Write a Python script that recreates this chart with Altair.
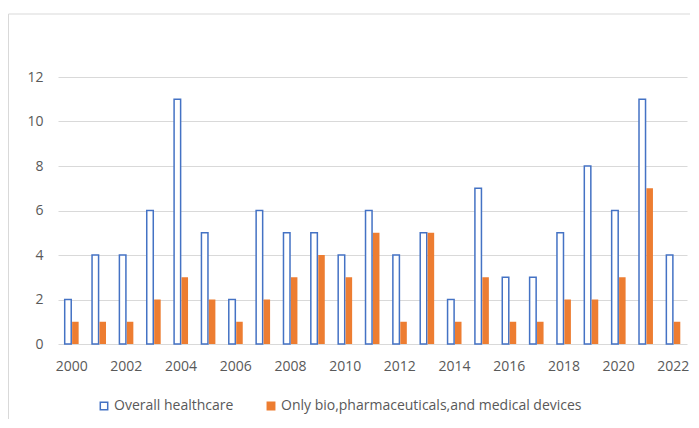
import altair as alt
import pandas as pd

years = list(range(2000, 2023))
overall = [2, 4, 4, 6, 11, 5, 2, 6, 5, 5, 4, 6, 4, 5, 2, 7, 3, 3, 5, 8, 6, 11, 4]
bio = [1, 1, 1, 2, 3, 2, 1, 2, 3, 4, 3, 5, 1, 5, 1, 3, 1, 1, 2, 2, 3, 7, 1]
series_names = ["Overall healthcare", "Only bio,pharmaceuticals,and medical devices"]
x_tick_labels = list(range(2000, 2023, 2))
y_ticks = [0, 2, 4, 6, 8, 10, 12]

rows = []
for yr, a, b in zip(years, overall, bio):
    rows.append({"year": yr, "series": series_names[0], "value": a})
    rows.append({"year": yr, "series": series_names[1], "value": b})
df = pd.DataFrame(rows)

font = "Open Sans"
grey = "#595959"
blue = "#4472C4"
orange = "#ED7D31"

legend = alt.Legend(
    title=None, orient="none", legendX=39, legendY=322, direction="horizontal",
    columnPadding=30, labelOffset=3, symbolType="square", symbolSize=55,
    symbolStrokeWidth=1.5, labelFont=font, labelFontSize=14, labelColor=grey,
    labelLimit=500,
)

bars = alt.Chart(df).mark_bar().encode(
    x=alt.X("year:O", scale=alt.Scale(paddingInner=0.49, paddingOuter=0.245),
            axis=alt.Axis(values=x_tick_labels, title=None, labelAngle=0, ticks=False,
                          domain=False, labelPadding=15, labelFont=font, labelFontSize=14,
                          labelColor=grey, grid=False)),
    xOffset=alt.XOffset("series:N", sort=series_names,
                        scale=alt.Scale(domain=series_names, paddingInner=0.12)),
    y=alt.Y("value:Q", scale=alt.Scale(domain=[0, 12], nice=False),
            axis=alt.Axis(values=y_ticks, title=None, ticks=False, domain=False,
                          labelPadding=15, labelFont=font, labelFontSize=14,
                          labelColor=grey, gridColor="#D9D9D9", gridWidth=1)),
    fill=alt.Fill("series:N", scale=alt.Scale(domain=series_names, range=["#FFFFFF", orange]),
                  legend=legend),
    stroke=alt.Stroke("series:N", scale=alt.Scale(domain=series_names, range=[blue, orange]),
                      legend=legend),
    strokeWidth=alt.condition(alt.datum.series == series_names[0], alt.value(1.5), alt.value(0)),
)

frame_df = pd.DataFrame({"k": [0]})
frame_left = alt.Chart(frame_df).mark_rule(color="#D9D9D9", strokeWidth=1).encode(
    x=alt.value(-49.5), y=alt.value(-63), y2=alt.value(420)
)
frame_top = alt.Chart(frame_df).mark_rule(color="#D9D9D9", strokeWidth=1).encode(
    x=alt.value(-49.5), x2=alt.value(700), y=alt.value(-63)
)

chart = alt.layer(frame_left, frame_top, bars).properties(
    width=629, height=267,
    autosize=alt.AutoSizeParams(type="none"),
    padding={"left": 50, "top": 69, "right": 3, "bottom": 75},
).configure_view(stroke=None)

chart.save("out.html", embed_options={"renderer": "svg", "actions": False})
